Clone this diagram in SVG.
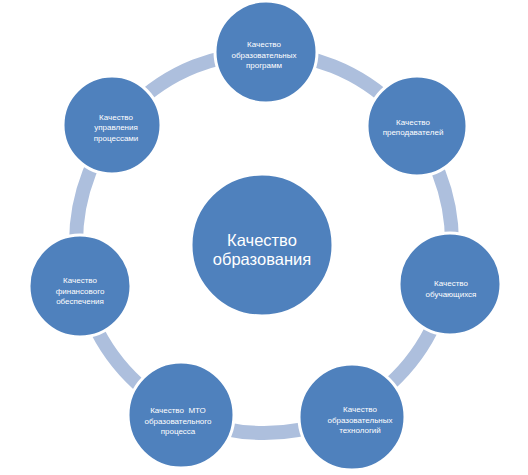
<svg xmlns="http://www.w3.org/2000/svg" width="528" height="475" viewBox="0 0 528 475">
<style>
.node{fill:#4f81bd;stroke:#ffffff;stroke-width:3}
.ring{fill:none;stroke:#adbfdd;stroke-width:14}
.t{font-family:"Liberation Sans",Arial,sans-serif;font-size:8px;fill:#ffffff;text-anchor:middle}
.tc{font-family:"Liberation Sans",Arial,sans-serif;font-size:16.5px;fill:#ffffff;text-anchor:middle}
</style>
<rect width="528" height="475" fill="#ffffff"/>
<g id="connectors">
<ellipse class="ring" cx="264" cy="243" rx="188" ry="190"/>
</g>
<g id="center">
<circle class="node" cx="262" cy="245" r="71"/>
<text class="tc" x="262" y="246">Качество</text>
<text class="tc" x="262" y="265">образования</text>
</g>
<g id="n1">
<circle class="node" cx="266" cy="52" r="51"/>
<text class="t" x="264" y="47">Качество</text>
<text class="t" x="264" y="57.5">образовательных</text>
<text class="t" x="264" y="68">программ</text>
</g>
<g id="n2">
<circle class="node" cx="417" cy="126" r="50"/>
<text class="t" x="413" y="124.5">Качество</text>
<text class="t" x="413" y="135">преподавателей</text>
</g>
<g id="n3">
<circle class="node" cx="450" cy="284" r="51"/>
<text class="t" x="451" y="286">Качество</text>
<text class="t" x="451" y="296.5">обучающихся</text>
</g>
<g id="n4">
<circle class="node" cx="352" cy="417" r="53"/>
<text class="t" x="360" y="412">Качество</text>
<text class="t" x="360" y="422.5">образовательных</text>
<text class="t" x="360" y="433">технологий</text>
</g>
<g id="n5">
<circle class="node" cx="181" cy="415" r="53"/>
<text class="t" x="178" y="413" xml:space="preserve">Качество  МТО</text>
<text class="t" x="178" y="423.5">образовательного</text>
<text class="t" x="178" y="434">процесса</text>
</g>
<g id="n6">
<circle class="node" cx="80" cy="286" r="51"/>
<text class="t" x="80" y="283">Качество</text>
<text class="t" x="80" y="293.5">финансового</text>
<text class="t" x="80" y="304">обеспечения</text>
</g>
<g id="n7">
<circle class="node" cx="112" cy="125" r="49"/>
<text class="t" x="116" y="119.5">Качество</text>
<text class="t" x="116" y="130">управления</text>
<text class="t" x="116" y="140.5">процессами</text>
</g>
</svg>
